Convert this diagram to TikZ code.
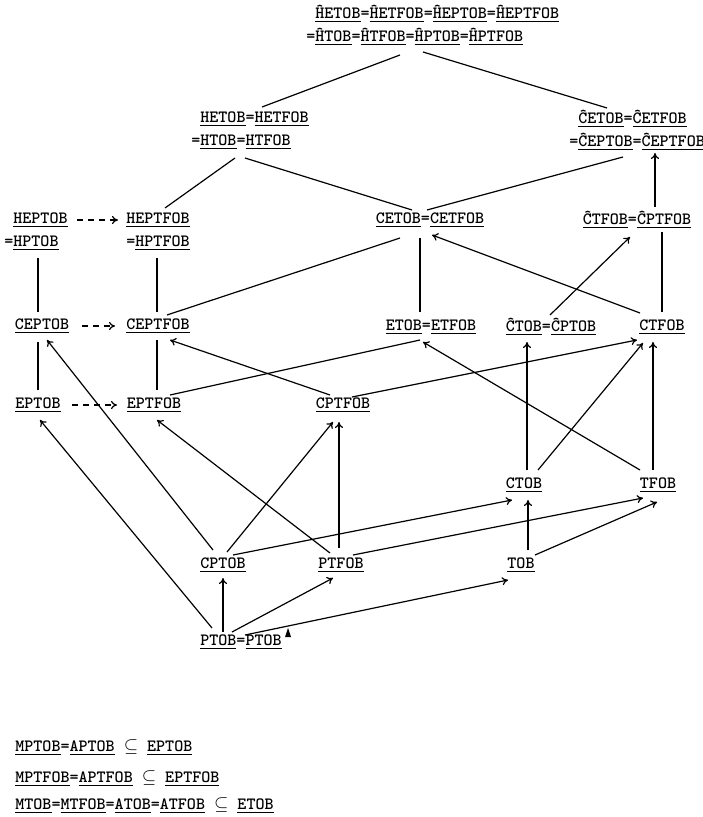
\documentclass[tikz,border=0pt]{standalone}
\usepackage{fontspec}
\usetikzlibrary{calc}
\usetikzlibrary{arrows.meta}

\newcommand{\ulw}[1]{\underline{#1}}

\begin{document}
\begin{tikzpicture}[
        x=0.5pt, y=-0.5pt,
        lbl/.style={inner sep=0pt, font=\ttfamily\bfseries\fontsize{8.6}{11.5}\selectfont},
        line/.style={line width=0.6pt},
        arrow/.style={line width=0.6pt, ->, >={To[length=3pt,width=4pt]}},
        darrow/.style={arrow, dash pattern=on 3pt off 2.5pt},
    ]
    \useasboundingbox (0,0) rectangle (702,817);

    % upper part
    \node[lbl, align=left, anchor=west] (hhetob) at (315,25) {\ulw{ĤETOB}=\ulw{ĤETFOB}=\ulw{ĤEPTOB}=\ulw{ĤEPTFOB}\\\llap{=}\ulw{ĤTOB}=\ulw{ĤTFOB}=\ulw{ĤPTOB}=\ulw{ĤPTFOB}};
    \node[lbl, align=left, anchor=west] (hetob) at (200,131) {\ulw{HETOB}=\ulw{HETFOB}\\\llap{=}\ulw{HTOB}=\ulw{HTFOB}};
    \node[lbl, align=left, anchor=west] (hcetob) at (578,130) {\ulw{ĈETOB}=\ulw{ĈETFOB}\\\llap{=}\ulw{ĈEPTOB}=\ulw{ĈEPTFOB}};
    \node[lbl, align=left, anchor=west] (heptob) at (13,232) {\ulw{HEPTOB}\\\llap{=}\ulw{HPTOB}};
    \node[lbl, align=center] (heptfob) at (158,232) {\ulw{HEPTFOB}\\=\ulw{HPTFOB}};
    \node[lbl] (cetob) at (430,220) {\ulw{CETOB}=\ulw{CETFOB}};
    \node[lbl] (hctfob) at (637,220) {\ulw{ĈTFOB}=\ulw{ĈPTFOB}};

    % middle part
    \node[lbl] (ceptob) at (42,326) {\ulw{CEPTOB}};
    \node[lbl] (ceptfob) at (158,326) {\ulw{CEPTFOB}};
    \node[lbl] (etob) at (431,327) {\ulw{ETOB}=\ulw{ETFOB}};
    \node[lbl] (hctob) at (551,327) {\ulw{ĈTOB}=\ulw{ĈPTOB}};
    \node[lbl] (ctfob) at (662,327) {\ulw{CTFOB}};
    \node[lbl] (eptob) at (38,405) {\ulw{EPTOB}};
    \node[lbl] (eptfob) at (154,405) {\ulw{EPTFOB}};
    \node[lbl] (cptfob) at (343,405) {\ulw{CPTFOB}};
    \node[lbl] (ctob) at (524,485) {\ulw{CTOB}};
    \node[lbl] (tfob) at (658,485) {\ulw{TFOB}};

    % lower part
    \node[lbl] (cptob) at (223,565) {\ulw{CPTOB}};
    \node[lbl] (ptfob) at (341,565) {\ulw{PTFOB}};
    \node[lbl] (tob) at (521,565) {\ulw{TOB}};
    \node[lbl] (ptob) at (241,642) {\ulw{PTOB}=\ulw{PTOB}};
    \fill ($(ptob)+(44,-5)$) -- ++(6,0) -- ++(-3,-9) -- cycle;

    \node[lbl, anchor=west] (incl1) at (15,748) {\ulw{MPTOB}=\ulw{APTOB} $\subseteq$ \ulw{EPTOB}};
    \node[lbl, anchor=west] (incl2) at (15,779) {\ulw{MPTFOB}=\ulw{APTFOB} $\subseteq$ \ulw{EPTFOB}};
    \node[lbl, anchor=west] (incl3) at (15,806) {\ulw{MTOB}=\ulw{MTFOB}=\ulw{ATOB}=\ulw{ATFOB} $\subseteq$ \ulw{ETOB}};

    % plain lines
    \draw[line] ($(hhetob.west)+(85,30)$) -- ($(hetob.west)+(62,-24)$);
    \draw[line] ($(hhetob.west)+(108,27)$) -- ($(hcetob.west)+(29,-22)$);
    \draw[line] ($(hetob.west)+(35,27)$) -- ($(heptfob)+(7,-24)$);
    \draw[line] ($(hetob.west)+(45,27)$) -- ($(cetob)+(-18,-10)$);
    \draw[line] ($(hcetob.west)+(45,27)$) -- ($(cetob)+(-3,-10)$);
    \draw[line] ($(heptob.west)+(25,26)$) -- ($(ceptob)+(-4,-14)$);
    \draw[line] ($(heptfob)+(-1,26)$) -- ($(ceptfob)+(-1,-14)$);
    \draw[line] ($(cetob)+(-30,18)$) -- ($(ceptfob)+(9,-11)$);
    \draw[line] ($(cetob)+(-10,18)$) -- ($(etob)+(-11,-15)$);
    \draw[line] ($(hctfob)+(25,12)$) -- ($(ctfob)+(0,-15)$);
    \draw[line] ($(ceptob)+(-4,16)$) -- ($(eptob)+(0,-15)$);
    \draw[line] ($(ceptfob)+(-1,14)$) -- ($(eptfob)+(3,-15)$);
    \draw[line] ($(eptfob)+(16,-10)$) -- ($(etob)+(-11,13)$);

    % dashed arrows
    \draw[darrow] ($(heptob.west)+(64,-12)$) -- ($(heptfob)+(-40,-12)$);
    \draw[darrow] ($(ceptob)+(40,0)$) -- ($(ceptfob)+(-43,0)$);
    \draw[darrow] ($(eptob)+(34,0)$) -- ($(eptfob)+(-37,0)$);

    % arrows
    \draw[arrow] ($(hctfob)+(18,-13)$) -- ($(hcetob.west)+(77,23)$);
    \draw[arrow] ($(hctob)+(-1,-12)$) -- ($(hctfob)+(-7,17)$);
    \draw[arrow] ($(ctfob)+(-22,-14)$) -- ($(cetob)+(2,15)$);
    \draw[arrow] ($(cptfob)+(-13,-10)$) -- ($(ceptfob)+(12,14)$);
    \draw[arrow] ($(cptfob)+(9,-8)$) -- ($(ctfob)+(-25,13)$);
    \draw[arrow] ($(tfob)+(-18,-15)$) -- ($(etob)+(-8,15)$);
    \draw[arrow] ($(ctob)+(3,-15)$) -- ($(hctob)+(-24,15)$);
    \draw[arrow] ($(ctob)+(14,-15)$) -- ($(ctfob)+(-19,16)$);
    \draw[arrow] ($(tfob)+(-5,-15)$) -- ($(ctfob)+(-9,15)$);
    \draw[arrow] ($(cptob)+(-10,-15)$) -- ($(ceptob)+(5,14)$);
    \draw[arrow] ($(cptob)+(4,-13)$) -- ($(cptfob)+(-10,17)$);
    \draw[arrow] ($(ptfob)+(-2,-17)$) -- ($(cptfob)+(-4,17)$);
    \draw[arrow] ($(ptfob)+(-11,-12)$) -- ($(eptfob)+(3,15)$);
    \draw[arrow] ($(ptob)+(-29,-14)$) -- ($(eptob)+(2,15)$);
    \draw[arrow] ($(cptob)+(10,-10)$) -- ($(ctob)+(-12,15)$);
    \draw[arrow] ($(ptfob)+(12,-10)$) -- ($(tfob)+(-15,13)$);
    \draw[arrow] ($(tob)+(7,-15)$) -- ($(ctob)+(4,15)$);
    \draw[arrow] ($(tob)+(14,-10)$) -- ($(tfob)+(-1,17)$);
    \draw[arrow] ($(ptob)+(-18,-10)$) -- ($(cptob)+(0,13)$);
    \draw[arrow] ($(ptob)+(-9,-10)$) -- ($(ptfob)+(-8,13)$);
    \draw[arrow] ($(ptob)+(4,-7)$) -- ($(tob)+(-13,15)$);
\end{tikzpicture}
\end{document}
